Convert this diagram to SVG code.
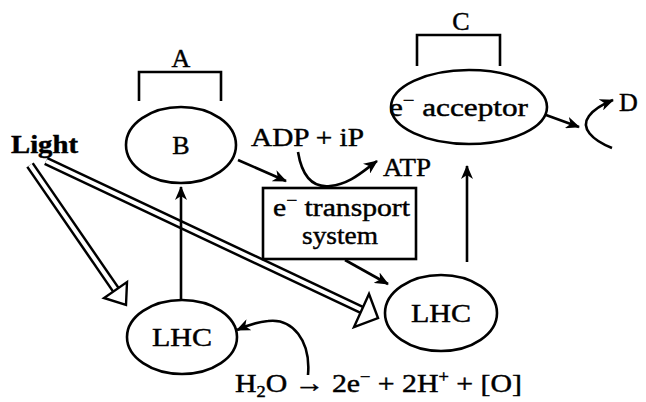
<svg xmlns="http://www.w3.org/2000/svg" width="646" height="402" viewBox="0 0 646 402">
<defs>
<marker id="ah" viewBox="0 0 14 12" refX="13" refY="6" markerWidth="14" markerHeight="12" markerUnits="userSpaceOnUse" orient="auto">
<path d="M0,0 L14,6 L0,12 L4,6 z" fill="#000"/>
</marker>
<style>
text{font-family:'Liberation Serif','Times New Roman','DejaVu Serif',serif;fill:#000;font-size:26px;stroke:#000;stroke-width:0.45}
.n{fill:none;stroke:#000;stroke-width:2.6}
.c{text-anchor:middle}
.a{fill:none;stroke:#000;stroke-width:2.6;marker-end:url(#ah)}
.sh{fill:none;stroke:#000;stroke-width:9}
.shw{fill:none;stroke:#fff;stroke-width:4}
.hd{fill:#fff;stroke:#000;stroke-width:2.4;stroke-linejoin:miter}
</style>
</defs>
<rect width="646" height="402" fill="#fff"/>

<g id="light">
<text x="11" y="153" font-weight="bold" font-size="28" textLength="67" lengthAdjust="spacingAndGlyphs">Light</text>
</g>

<g id="light-arrows">
<line class="sh" x1="30" y1="165" x2="116" y2="290"/>
<line class="shw" x1="30" y1="165" x2="116" y2="290"/>
<polygon class="hd" points="126,305 127,282 104,298"/>
<line class="sh" x1="46" y1="161" x2="362" y2="310"/>
<line class="shw" x1="46" y1="161" x2="362" y2="310"/>
<polygon class="hd" points="378,318 369,294 354,327"/>
</g>

<g id="A">
<text class="c" x="181" y="67">A</text>
<path class="n" d="M139,101 V72 H221 V101"/>
</g>

<g id="B">
<ellipse class="n" cx="181" cy="145" rx="55" ry="38"/>
<text class="c" x="181" y="154">B</text>
</g>

<g id="C">
<text class="c" x="461" y="30">C</text>
<path class="n" d="M417,66 V35 H500 V66"/>
</g>

<g id="acceptor">
<ellipse class="n" cx="469" cy="107" rx="78" ry="37"/>
<text x="389" y="116" textLength="139" lengthAdjust="spacingAndGlyphs">e<tspan font-size="17" dy="-10">−</tspan><tspan dy="10"> acceptor</tspan></text>
</g>

<g id="D">
<text x="619" y="111">D</text>
</g>

<g id="transport">
<rect x="263" y="188" width="153" height="71" fill="#fff" stroke="#000" stroke-width="2.6"/>
<text x="273" y="216" textLength="137" lengthAdjust="spacingAndGlyphs">e<tspan font-size="17" dy="-10">−</tspan><tspan dy="10"> transport</tspan></text>
<text x="302" y="244" textLength="76" lengthAdjust="spacingAndGlyphs">system</text>
</g>

<g id="adp">
<text x="251" y="146" textLength="113" lengthAdjust="spacingAndGlyphs">ADP + iP</text>
</g>

<g id="atp">
<text x="383" y="176" textLength="48" lengthAdjust="spacingAndGlyphs">ATP</text>
</g>

<g id="lhc1">
<ellipse class="n" cx="182" cy="337" rx="55" ry="37"/>
<text x="152" y="346" textLength="60" lengthAdjust="spacingAndGlyphs">LHC</text>
</g>

<g id="lhc2">
<ellipse class="n" cx="441" cy="313" rx="56" ry="38"/>
<text x="411" y="322" textLength="60" lengthAdjust="spacingAndGlyphs">LHC</text>
</g>

<g id="equation">
<text x="235" y="392" textLength="287" lengthAdjust="spacingAndGlyphs">H<tspan font-size="16" dy="5">2</tspan><tspan dy="-5">O →  2e</tspan><tspan font-size="16" dy="-10">−</tspan><tspan dy="10"> + 2H</tspan><tspan font-size="16" dy="-10">+</tspan><tspan dy="10"> + [O]</tspan></text>
</g>

<g id="connectors">
<line class="a" x1="181" y1="300" x2="181" y2="187"/>
<line class="a" x1="238" y1="160" x2="286" y2="181"/>
<path class="a" d="M298,152 C302,176 312,188 330,186 C350,184 362,172 377,161"/>
<line class="a" x1="345" y1="260" x2="388" y2="284"/>
<line class="a" x1="467" y1="262" x2="467" y2="166"/>
<line class="a" x1="546" y1="115" x2="579" y2="127"/>
<path class="a" d="M612,148 C592,140 580,128 589,116 C595,108 603,104 613,100"/>
<path class="a" d="M308,375 C311,340 292,318 268,321 C256,322 246,326 237,330"/>
</g>
</svg>
